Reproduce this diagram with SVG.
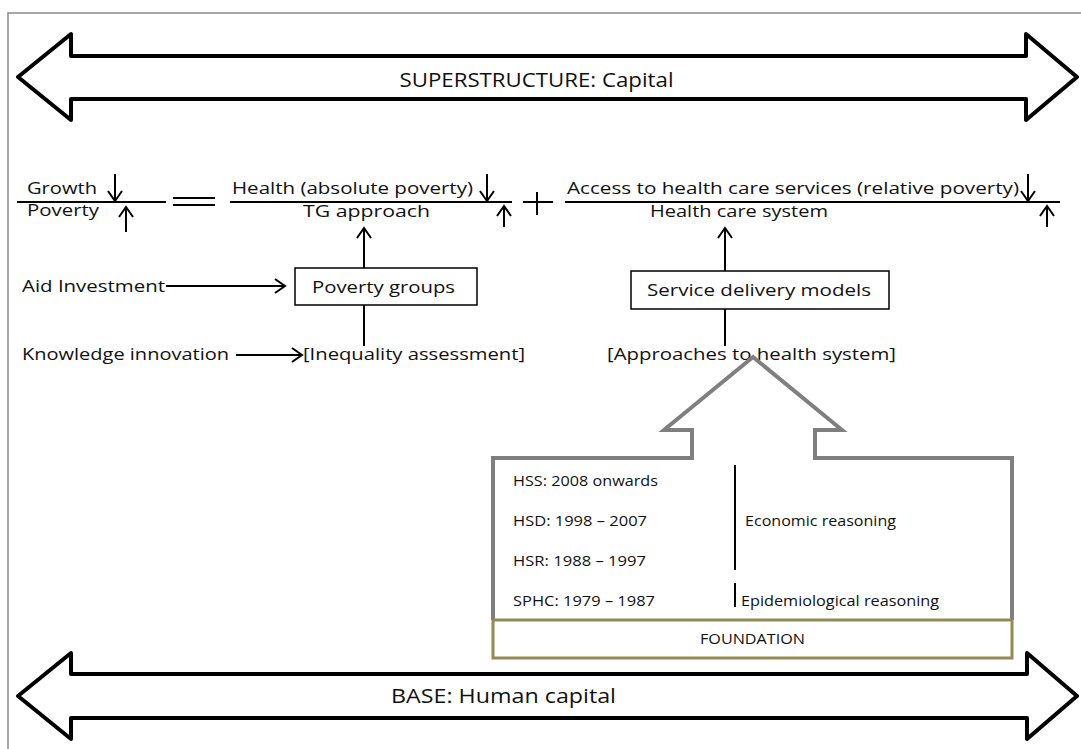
<svg xmlns="http://www.w3.org/2000/svg" width="1081" height="749" viewBox="0 0 1081 749">
  <style>
    text { font-family: "Open Sans", "Noto Sans", "DejaVu Sans", sans-serif; fill: #111; }
    .t { font-size: 17px; }
    .big { font-size: 19.5px; }
    .sm { font-size: 14px; }
    .ln { stroke: #000; stroke-width: 2; fill: none; }
    .blk { fill: #fff; stroke: #000; stroke-width: 4; stroke-linejoin: round; }
    .box { fill: #fff; stroke: #000; stroke-width: 1.5; }
  </style>
  <defs>
    <marker id="open" viewBox="-12 -9 14 18" markerWidth="14" markerHeight="18" refX="0" refY="0" orient="auto" markerUnits="userSpaceOnUse">
      <path d="M-10,-7 L0,0 L-10,7" fill="none" stroke="#000" stroke-width="2"/>
    </marker>
  </defs>

  <rect width="1081" height="749" fill="#fff"/>
  <!-- page frame -->
  <path d="M8,749 L8,13 L1081,13" fill="none" stroke="#8a8a8a" stroke-width="1.5"/>

  <!-- top double arrow -->
  <g id="superstructure">
    <polygon class="blk" points="18,77 71,34 71,56 1026,56 1026,34 1077,77 1026,120 1026,99 71,99 71,120"/>
    <text class="big" x="399.5" y="87" textLength="274" lengthAdjust="spacingAndGlyphs">SUPERSTRUCTURE: Capital</text>
  </g>

  <!-- bottom double arrow -->
  <g id="base">
    <polygon class="blk" points="18,696 71,653 71,674 1027,674 1027,653 1077,696 1027,739 1027,718 71,718 71,739"/>
    <text class="big" x="391" y="703" textLength="225" lengthAdjust="spacingAndGlyphs">BASE: Human capital</text>
  </g>

  <!-- equation row -->
  <g id="growth-poverty">
    <line class="ln" x1="17" y1="202" x2="166" y2="202"/>
    <text class="t" x="27" y="194" textLength="70" lengthAdjust="spacingAndGlyphs">Growth</text>
    <text class="t" x="27" y="216" textLength="72" lengthAdjust="spacingAndGlyphs">Poverty</text>
  </g>
  <g id="equals">
    <line class="ln" x1="173" y1="198" x2="215" y2="198"/>
    <line class="ln" x1="173" y1="205" x2="215" y2="205"/>
  </g>
  <g id="health-absolute">
    <line class="ln" x1="230" y1="202" x2="512" y2="202"/>
    <text class="t" x="232" y="194" textLength="241" lengthAdjust="spacingAndGlyphs">Health (absolute poverty)</text>
    <text class="t" x="303" y="217" textLength="127" lengthAdjust="spacingAndGlyphs">TG approach</text>
  </g>
  <g id="plus">
    <line class="ln" x1="537" y1="192" x2="537" y2="215"/>
    <line class="ln" x1="523" y1="202" x2="553" y2="202"/>
  </g>
  <g id="health-relative">
    <line class="ln" x1="565" y1="202" x2="1060" y2="202"/>
    <text class="t" x="567" y="194" textLength="452" lengthAdjust="spacingAndGlyphs">Access to health care services (relative poverty)</text>
    <text class="t" x="650" y="217" textLength="178" lengthAdjust="spacingAndGlyphs">Health care system</text>
  </g>

  <!-- left column -->
  <g id="aid-investment">
    <text class="t" x="22" y="292" textLength="143" lengthAdjust="spacingAndGlyphs">Aid Investment</text>
  </g>
  <g id="poverty-groups">
    <rect class="box" x="295" y="268" width="182" height="37"/>
    <text class="t" x="312" y="293" textLength="143" lengthAdjust="spacingAndGlyphs">Poverty groups</text>
  </g>
  <g id="knowledge-innovation">
    <text class="t" x="22" y="360" textLength="207" lengthAdjust="spacingAndGlyphs">Knowledge innovation</text>
  </g>
  <g id="inequality-assessment">
    <text class="t" x="303" y="360" textLength="222" lengthAdjust="spacingAndGlyphs">[Inequality assessment]</text>
  </g>

  <!-- right column -->
  <g id="service-delivery">
    <rect class="box" x="631" y="271" width="258" height="38"/>
    <text class="t" x="647" y="296" textLength="224" lengthAdjust="spacingAndGlyphs">Service delivery models</text>
  </g>
  <g id="approaches">
    <text class="t" x="607" y="360" textLength="289" lengthAdjust="spacingAndGlyphs">[Approaches to health system]</text>
  </g>

  <!-- house of approaches -->
  <g id="house">
    <path d="M493,620 L493,458 L692,458 L692,430 L664,430 L753,357 L842,430 L815,430 L815,458 L1012,458 L1012,620" fill="#fff" stroke="#7f7f7f" stroke-width="4" stroke-linejoin="miter"/>
    <text class="sm" x="513" y="486" textLength="145" lengthAdjust="spacingAndGlyphs">HSS: 2008 onwards</text>
    <text class="sm" x="513" y="526" textLength="134" lengthAdjust="spacingAndGlyphs">HSD: 1998 – 2007</text>
    <text class="sm" x="513" y="566" textLength="133" lengthAdjust="spacingAndGlyphs">HSR: 1988 – 1997</text>
    <text class="sm" x="513" y="606" textLength="142" lengthAdjust="spacingAndGlyphs">SPHC: 1979 – 1987</text>
    <line x1="735" y1="465" x2="735" y2="570" stroke="#000" stroke-width="2"/>
    <line x1="735" y1="583" x2="735" y2="607" stroke="#000" stroke-width="2"/>
    <text class="sm" x="745" y="526" textLength="151" lengthAdjust="spacingAndGlyphs">Economic reasoning</text>
    <text class="sm" x="741" y="606" textLength="198" lengthAdjust="spacingAndGlyphs">Epidemiological reasoning</text>
  </g>
  <g id="foundation">
    <rect x="493" y="620" width="519" height="38" fill="#fff" stroke="#948a54" stroke-width="3"/>
    <text class="sm" x="752.5" y="644" text-anchor="middle" textLength="105" lengthAdjust="spacingAndGlyphs">FOUNDATION</text>
  </g>

  <!-- connectors -->
  <g id="connectors">
    <line class="ln" x1="115" y1="174" x2="115" y2="201" marker-end="url(#open)"/>
    <line class="ln" x1="126" y1="232" x2="126" y2="207" marker-end="url(#open)"/>
    <line class="ln" x1="487" y1="174" x2="487" y2="201" marker-end="url(#open)"/>
    <line class="ln" x1="504" y1="227" x2="504" y2="206" marker-end="url(#open)"/>
    <line class="ln" x1="1028" y1="174" x2="1028" y2="201" marker-end="url(#open)"/>
    <line class="ln" x1="1047" y1="227" x2="1047" y2="206" marker-end="url(#open)"/>
    <line class="ln" x1="364" y1="268" x2="364" y2="228" marker-end="url(#open)"/>
    <line class="ln" x1="364" y1="305" x2="364" y2="346"/>
    <line class="ln" x1="166" y1="286" x2="285" y2="286" marker-end="url(#open)"/>
    <line class="ln" x1="236" y1="355" x2="302" y2="355" marker-end="url(#open)"/>
    <line class="ln" x1="725" y1="271" x2="725" y2="228" marker-end="url(#open)"/>
    <line class="ln" x1="725" y1="309" x2="725" y2="346"/>
  </g>
</svg>
